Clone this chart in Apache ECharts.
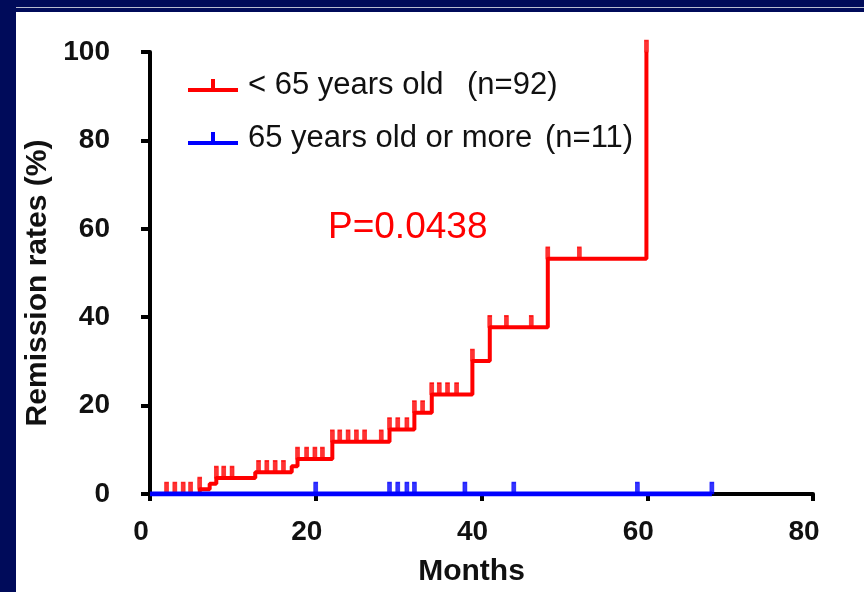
<!DOCTYPE html>
<html><head><meta charset="utf-8">
<script src="https://cdn.jsdelivr.net/npm/echarts@6/dist/echarts.min.js"></script>
<style>html,body{margin:0;padding:0;background:#fff}#c{width:864px;height:592px}</style>
</head><body><div id="c"></div>
<script>
// ---- data ----
const xTicks = [0, 20, 40, 60, 80];
const yTicks = [0, 20, 40, 60, 80, 100];

const redName = '< 65 years old';
const redN = '(n=92)';
const blueName = '65 years old or more';
const blueN = '(n=11)';
const pText = 'P=0.0438';

// step curve (< 65 years old): time (months) and remission rate (%) after each event
const redTimes = [0, 6.0, 7.2, 8.0, 12.7, 17.1, 17.8, 22.0, 28.9, 31.9, 34.0, 38.9, 41.0, 48.0, 59.9];
const redRates = [0, 1.1, 2.3, 3.6, 4.9, 6.3, 7.9, 11.8, 14.6, 18.4, 22.5, 30.1, 37.7, 53.2, 100];
// censored observations
const redCensorTimes = [2.0, 3.0, 4.0, 4.9, 6.0, 8.0, 8.9, 9.9, 13.1, 14.1, 15.1, 16.1, 17.8, 18.9, 19.9, 20.8,
  22.0, 22.9, 23.9, 24.9, 25.9, 27.9, 28.9, 29.9, 31.0, 31.9, 32.9, 34.0, 34.9, 35.9, 37.0, 38.9,
  41.0, 43.0, 46.0, 48.0, 51.8, 59.9];
const redCensorRates = [0, 0, 0, 0, 1.1, 3.6, 3.6, 3.6, 4.9, 4.9, 4.9, 4.9, 7.9, 7.9, 7.9, 7.9,
  11.8, 11.8, 11.8, 11.8, 11.8, 11.8, 14.6, 14.6, 14.6, 18.4, 18.4, 22.5, 22.5, 22.5, 22.5, 30.1,
  37.7, 37.7, 37.7, 53.2, 53.2, 100];

// 65 years old or more
const blueTimes = [0, 67.8];
const blueRates = [0, 0];
const blueCensorTimes = [20.0, 28.9, 29.9, 31.0, 31.9, 38.0, 43.9, 58.8, 67.8];
const blueCensorRates = [0, 0, 0, 0, 0, 0, 0, 0, 0];

// ---- chart ----
const zip = (a, b) => a.map((v, i) => [v, b[i]]);
const FONT = '"Liberation Sans", Arial, sans-serif';
const RED = '#FF0000', BLUE = '#0000FF', NAVY = '#000B5A';
const legendIcon = 'path://M0,9 L50,9 L50,13 L0,13 Z M23,0 L27,0 L27,9 L23,9 Z';

const chart = echarts.init(document.getElementById('c'), null, {renderer: 'canvas'});
chart.setOption({
  animation: false,
  backgroundColor: '#ffffff',
  textStyle: {fontFamily: FONT},
  grid: {left: 150, right: 51, top: 52, bottom: 98},
  graphic: [
    {type: 'rect', shape: {x: 0, y: 0, width: 16, height: 592}, style: {fill: NAVY}, silent: true},
    {type: 'rect', shape: {x: 0, y: 0, width: 864, height: 12}, style: {fill: NAVY}, silent: true},
    {type: 'rect', shape: {x: 16, y: 7, width: 848, height: 1}, style: {fill: '#b8bccf'}, silent: true},
    {type: 'text', x: 328, y: 228, style: {text: pText, fill: RED, font: 'normal 37px ' + FONT, verticalAlign: 'middle'}, silent: true}
  ],
  legend: {
    orient: 'vertical', left: 183, top: 65, itemGap: 22,
    itemWidth: 50, itemHeight: 13,
    data: [{name: redName, icon: legendIcon}, {name: blueName, icon: legendIcon}],
    formatter: function (name) {
      return name === redName ? '{a|' + redName + '}{b|' + redN + '}' : '{c|' + blueName + '}{b|' + blueN + '}';
    },
    textStyle: {
      fontFamily: FONT, fontSize: 31, color: '#111', lineHeight: 30,
      rich: {
        a: {fontFamily: FONT, fontSize: 31, color: '#111', width: 219, padding: [0, 0, 0, 5]},
        c: {fontFamily: FONT, fontSize: 31, color: '#111', width: 297, padding: [0, 0, 0, 5]},
        b: {fontFamily: FONT, fontSize: 31, color: '#111'}
      }
    }
  },
  xAxis: {
    type: 'value', min: xTicks[0], max: xTicks[xTicks.length - 1], interval: xTicks[1] - xTicks[0],
    name: 'Months', nameLocation: 'middle', nameGap: 63,
    nameTextStyle: {fontFamily: FONT, fontSize: 30, fontWeight: 'bold', color: '#111', padding: [0, 20, 0, 0]},
    axisLine: {lineStyle: {color: '#000', width: 4}},
    axisTick: {length: 7, lineStyle: {color: '#000', width: 4}},
    axisLabel: {fontFamily: FONT, fontSize: 28, fontWeight: 'bold', color: '#111', margin: 24, padding: [0, 18, 0, 0]},
    splitLine: {show: false}
  },
  yAxis: {
    type: 'value', min: yTicks[0], max: yTicks[yTicks.length - 1], interval: yTicks[1] - yTicks[0],
    name: 'Remission rates (%)', nameLocation: 'middle', nameGap: 90, nameRotate: 90,
    nameTextStyle: {fontFamily: FONT, fontSize: 30, fontWeight: 'bold', color: '#111', padding: [0, 20, 0, 0]},
    axisLine: {lineStyle: {color: '#000', width: 4}},
    axisTick: {length: 9, lineStyle: {color: '#000', width: 4}},
    axisLabel: {fontFamily: FONT, fontSize: 28, fontWeight: 'bold', color: '#111', margin: 40},
    splitLine: {show: false}
  },
  series: [
    {name: redName, type: 'line', step: 'end', data: zip(redTimes, redRates), showSymbol: false, symbol: 'none',
     color: RED, lineStyle: {color: RED, width: 4}, z: 3},
    {name: redName + ' censored', type: 'scatter', data: zip(redCensorTimes, redCensorRates),
     symbol: 'rect', symbolSize: [4, 11], symbolOffset: [0, -6],
     itemStyle: {color: RED, borderColor: RED, borderWidth: 1}, z: 3, clip: false},
    {name: blueName, type: 'line', data: zip(blueTimes, blueRates), showSymbol: false, symbol: 'none',
     color: BLUE, lineStyle: {color: BLUE, width: 5}, z: 4},
    {name: blueName + ' censored', type: 'scatter', data: zip(blueCensorTimes, blueCensorRates),
     symbol: 'rect', symbolSize: [4, 11], symbolOffset: [0, -6],
     itemStyle: {color: BLUE, borderColor: BLUE, borderWidth: 1}, z: 4, clip: false}
  ]
});
</script>
</body></html>
